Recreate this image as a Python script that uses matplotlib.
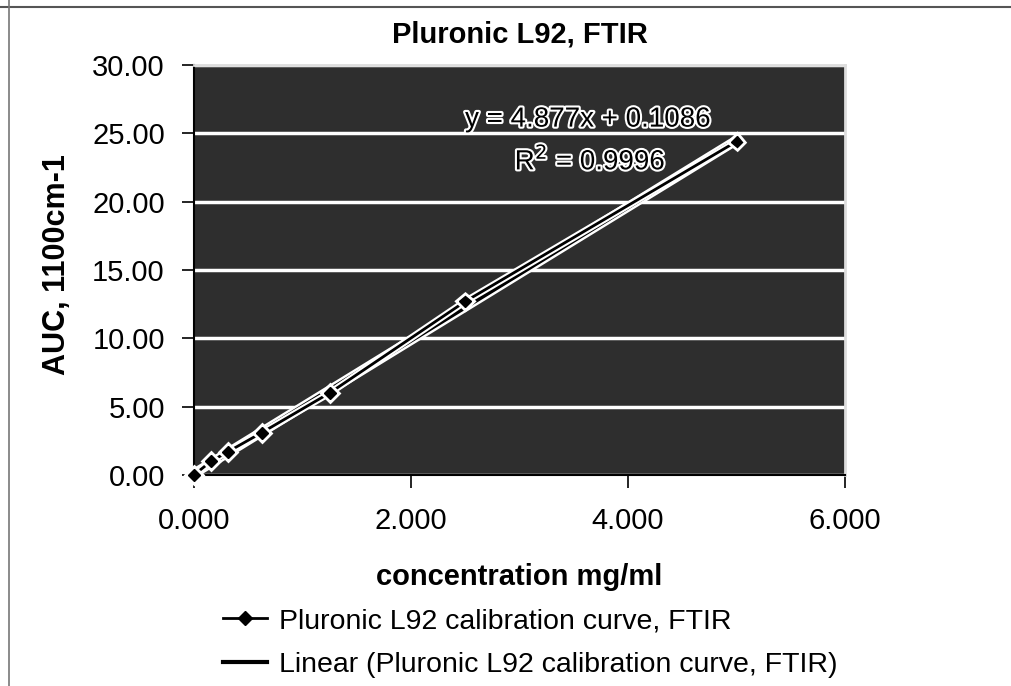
import matplotlib
matplotlib.use("Agg")
import matplotlib.pyplot as plt
import matplotlib.patheffects as pe
from matplotlib.lines import Line2D
from matplotlib.ticker import FormatStrFormatter

plt.rcParams["font.family"] = ["Liberation Sans", "DejaVu Sans"]

# calibration data (serial dilution)
conc = [0.0, 0.156, 0.3125, 0.625, 1.25, 2.5, 5.0]
auc = [0.0, 1.0, 1.7, 3.1, 6.0, 12.7, 24.4]

# trendline as reported on the chart
slope = 4.877
intercept = 0.1086
r2 = 0.9996
fit_x = [0.0, 5.0]

x_ticks = [0, 2, 4, 6]
y_ticks = [0, 5, 10, 15, 20, 25, 30]

series_label = "Pluronic L92 calibration curve, FTIR"
fit_label = "Linear (Pluronic L92 calibration curve, FTIR)"

fig = plt.figure(figsize=(10.12, 6.86), dpi=100)
ax = fig.add_axes([0.1917, 0.3076, 0.6433, 0.5977])
ax.set_facecolor("#2e2e2e")

fit_y = [slope * v + intercept for v in fit_x]
ax.plot(fit_x, fit_y, color="black", lw=3.5,
        path_effects=[pe.Stroke(linewidth=7, foreground="white"), pe.Normal()],
        zorder=3)
ax.plot(conc, auc, color="black", lw=2, marker="D", markersize=6,
        markeredgecolor="black",
        path_effects=[pe.Stroke(linewidth=5, foreground="white"), pe.Normal()],
        zorder=4, clip_on=False)

ax.set_xlim(0, 6)
ax.set_ylim(0, 30)
ax.set_xticks(x_ticks)
ax.set_yticks(y_ticks)
ax.xaxis.set_major_formatter(FormatStrFormatter("%.3f"))
ax.yaxis.set_major_formatter(FormatStrFormatter("%.2f"))
ax.tick_params(axis="both", labelsize=21, length=9, width=1.2, direction="out")
ax.tick_params(axis="x", pad=14)
ax.tick_params(axis="y", pad=12)

ax.grid(axis="y", color="white", lw=2.5)
ax.set_axisbelow(True)
for side in ["left", "bottom"]:
    ax.spines[side].set_color("black")
    ax.spines[side].set_linewidth(1.5)
for side in ["top", "right"]:
    ax.spines[side].set_color("#dddddd")
    ax.spines[side].set_linewidth(2)

ax.set_xlabel("concentration mg/ml", fontsize=21, fontweight="bold")
ax.xaxis.set_label_coords(0.5, -0.215)
ax.set_ylabel("AUC, 1100cm-1", fontsize=22, fontweight="bold")
ax.yaxis.set_label_coords(-0.187, 0.512)
ax.text(0.5, 1.075, "Pluronic L92, FTIR", transform=ax.transAxes,
        ha="center", va="center", fontsize=21, fontweight="bold")

outline = [pe.withStroke(linewidth=3, foreground="white")]
ax.text(3.63, 26.0, f"y = {slope}x + {intercept}", ha="center", va="center",
        fontsize=20, color="black", path_effects=outline)
ax.text(3.65, 23.0, f"R$^2$ = {r2}", ha="center", va="center",
        fontsize=20, color="black", path_effects=outline)

handles = [
    Line2D([], [], color="black", lw=2, marker="D", markersize=7),
    Line2D([], [], color="black", lw=3),
]
ax.legend(handles, [series_label, fit_label], loc="center left",
          bbox_to_anchor=(0.2204, 0.0627), bbox_transform=fig.transFigure,
          frameon=False, fontsize=20.5, handlelength=1.55, handletextpad=0.4,
          labelspacing=0.6, borderpad=0, borderaxespad=0)

fig.add_artist(Line2D([0, 1], [0.9898, 0.9898], color="#555555", lw=1.5))
fig.add_artist(Line2D([0.009, 0.009], [0, 1], color="#777777", lw=1.2))

fig.savefig("out.png", dpi=100)
plt.close(fig)
